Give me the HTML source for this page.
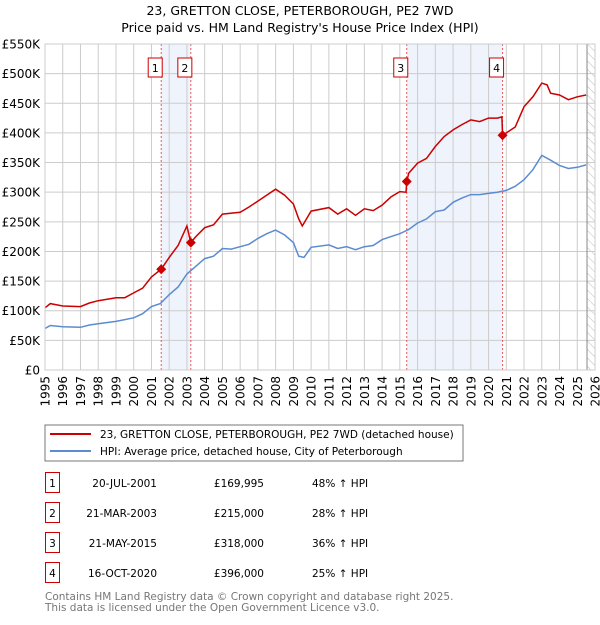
<!DOCTYPE html>
<html><head><meta charset="utf-8"><style>
body{margin:0;background:#fff;font-family:"Liberation Sans","DejaVu Sans",sans-serif;}
svg text{font-family:"DejaVu Sans","Liberation Sans",sans-serif;}
</style></head><body>
<svg id="c" width="600" height="620" xmlns="http://www.w3.org/2000/svg">
<defs><pattern id="hatch" width="6" height="6" patternUnits="userSpaceOnUse" patternTransform="rotate(-45)"><line x1="0" y1="0" x2="0" y2="6" stroke="#bbb" stroke-width="1"/></pattern></defs>
<text x="300" y="15" text-anchor="middle" font-size="12.5">23, GRETTON CLOSE, PETERBOROUGH, PE2 7WD</text>
<text x="300" y="32" text-anchor="middle" font-size="12.5">Price paid vs. HM Land Registry's House Price Index (HPI)</text>
<g id="plot"></g>
<rect x="45" y="425" width="418" height="36" fill="#fff" stroke="#777"/>
<line x1="50" y1="434" x2="91" y2="434" stroke="#cc0000" stroke-width="2"/>
<text x="100" y="438" font-size="10.5">23, GRETTON CLOSE, PETERBOROUGH, PE2 7WD (detached house)</text>
<line x1="50" y1="451" x2="91" y2="451" stroke="#5b8bd0" stroke-width="2"/>
<text x="100" y="455" font-size="10.5">HPI: Average price, detached house, City of Peterborough</text>
<g id="table" font-size="10.5"></g>
<text x="45" y="600" font-size="10.5" fill="#777">Contains HM Land Registry data © Crown copyright and database right 2025.</text>
<text x="45" y="611" font-size="10.5" fill="#777">This data is licensed under the Open Government Licence v3.0.</text>
</svg>
<script>
const hpiYears=[1995,1995.3,1996,1997,1997.5,1998,1999,2000,2000.5,2001,2001.5,2002,2002.5,2003,2003.5,2004,2004.5,2005,2005.5,2006,2006.5,2007,2007.5,2008,2008.5,2009,2009.3,2009.6,2010,2011,2011.5,2012,2012.5,2013,2013.5,2014,2014.5,2015,2015.5,2016,2016.5,2017,2017.5,2018,2018.5,2019,2019.5,2020,2020.5,2021,2021.5,2022,2022.5,2023,2023.5,2024,2024.5,2025,2025.5];
const hpiValues=[70,75,73,72,76,78,82,88,95,107,112,127,140,162,175,188,192,205,204,208,212,222,230,236,228,215,192,190,207,211,205,208,203,208,210,220,225,230,237,248,255,267,270,283,290,296,296,298,300,303,310,321,338,362,354,345,340,342,346];
const propYears=[1995,1995.3,1996,1997,1997.5,1998,1999,1999.5,2000,2000.5,2001,2001.55,2002,2002.5,2003.0,2003.22,2003.5,2004,2004.5,2005,2006,2006.5,2007,2007.5,2008,2008.5,2009,2009.3,2009.5,2010,2011,2011.5,2012,2012.5,2013,2013.5,2014,2014.5,2015,2015.35,2015.39,2015.5,2016,2016.5,2017,2017.5,2018,2018.5,2019,2019.5,2020,2020.5,2020.75,2020.79,2021,2021.5,2022,2022.5,2023,2023.3,2023.5,2024,2024.5,2025,2025.5];
const propValues=[105,112,108,107,113,117,122,122,130,138,157,170,190,210,243,215,225,240,245,263,266,275,285,295,305,295,280,255,243,268,274,263,272,261,272,269,278,292,301,300,318,332,349,357,377,394,405,414,422,419,425,425,427,396,400,410,444,461,484,481,467,464,456,461,464];
const saleLabels=["1","2","3","4"];
const saleYears=[2001.55,2003.22,2015.39,2020.79];
const saleValues=[169.995,215,318,396];
const saleDates=["20-JUL-2001","21-MAR-2003","21-MAY-2015","16-OCT-2020"];
const salePrices=["£169,995","£215,000","£318,000","£396,000"];
const saleHpi=["48% ↑ HPI","28% ↑ HPI","36% ↑ HPI","25% ↑ HPI"];
const yTicks=[0,50,100,150,200,250,300,350,400,450,500,550];
const yTickLabels=["£0","£50K","£100K","£150K","£200K","£250K","£300K","£350K","£400K","£450K","£500K","£550K"];
const xTicks=[1995,1996,1997,1998,1999,2000,2001,2002,2003,2004,2005,2006,2007,2008,2009,2010,2011,2012,2013,2014,2015,2016,2017,2018,2019,2020,2021,2022,2023,2024,2025,2026];

const X0=45,X1=595,Y0=370,Y1=44;
const xs=y=>X0+(y-1995)/(2026-1995)*(X1-X0);
const ys=v=>Y0-v/550*(Y0-Y1);
const NS="http://www.w3.org/2000/svg";
const plot=document.getElementById('plot');
function mk(t,a,p){const e=document.createElementNS(NS,t);for(const k in a)e.setAttribute(k,a[k]);(p||plot).appendChild(e);return e;}

for(let i=0;i<saleYears.length;i+=2){
 const r=mk('rect',{x:xs(saleYears[i]),y:Y1,width:xs(saleYears[i+1])-xs(saleYears[i]),height:Y0-Y1,fill:'#eef3fc'});
 
 
}
const hx=xs(2025.55);
const h=mk('rect',{x:hx,y:Y1,width:X1-hx,height:Y0-Y1,fill:'url(#hatch)'});


yTicks.forEach((v,i)=>{
 const l=mk('line',{x1:X0,x2:X1,y1:ys(v),y2:ys(v),stroke:'#cccccc'});
 
 
 const t=mk('text',{x:40,y:ys(v)+4.5,'text-anchor':'end','font-size':'12'});t.textContent=yTickLabels[i];
 
 
});
xTicks.forEach(y=>{
 const l=mk('line',{x1:xs(y),x2:xs(y),y1:Y1,y2:Y0,stroke:'#cccccc'});
 
 
 const t=mk('text',{x:0,y:0,'text-anchor':'end','font-size':'12',transform:`translate(${xs(y)+4.5},376) rotate(-90)`});t.textContent=y;
 
 
});
const hl=mk('line',{x1:hx,x2:hx,y1:Y1,y2:Y0,stroke:'#888'});


saleYears.forEach((y,i)=>{
 const l=mk('line',{x1:xs(y),x2:xs(y),y1:Y1,y2:Y0,stroke:'#e55','stroke-dasharray':'2,2','stroke-width':'1'});
 
 
 const b=mk('rect',{x:xs(y)-13,y:58,width:14,height:19,fill:'#fff',stroke:'#cc0000'});
 
 
 const t=mk('text',{x:xs(y)-6,y:72,'text-anchor':'middle','font-size':'11'});t.textContent=saleLabels[i];
 
 
});
const hp=mk('path',{d:hpiYears.map((y,i)=>(i?'L':'M')+xs(y).toFixed(1)+','+ys(hpiValues[i]).toFixed(1)).join(''),fill:'none',stroke:'#5b8bd0','stroke-width':'1.5'});


const pp=mk('path',{d:propYears.map((y,i)=>(i?'L':'M')+xs(y).toFixed(1)+','+ys(propValues[i]).toFixed(1)).join(''),fill:'none',stroke:'#cc0000','stroke-width':'1.5'});


saleYears.forEach((y,i)=>{
 const cx=xs(y),cy=ys(saleValues[i]);
 const d=mk('path',{d:`M${cx},${cy-5}L${cx+5},${cy}L${cx},${cy+5}L${cx-5},${cy}Z`,fill:'#cc0000'});
 
 
});
const ax=mk('rect',{x:X0,y:Y1,width:X1-X0,height:Y0-Y1,fill:'none',stroke:'#cccccc'});



const tb=document.getElementById('table');
saleLabels.forEach((s,i)=>{
 const y=483+i*30;
 const b=mk('rect',{x:45.5,y:y-10.5,width:14,height:20,fill:'#fff',stroke:'#cc0000'},tb);
 
 
 const t0=mk('text',{x:52.5,y:y+4,'text-anchor':'middle'},tb);t0.textContent=s;
 
 
 const t1=mk('text',{x:157,y:y+4,'text-anchor':'end'},tb);t1.textContent=saleDates[i];
 
 
 const t2=mk('text',{x:264,y:y+4,'text-anchor':'end'},tb);t2.textContent=salePrices[i];
 
 
 const t3=mk('text',{x:312,y:y+4},tb);t3.textContent=saleHpi[i];
 
 
});
</script>
</body></html>
